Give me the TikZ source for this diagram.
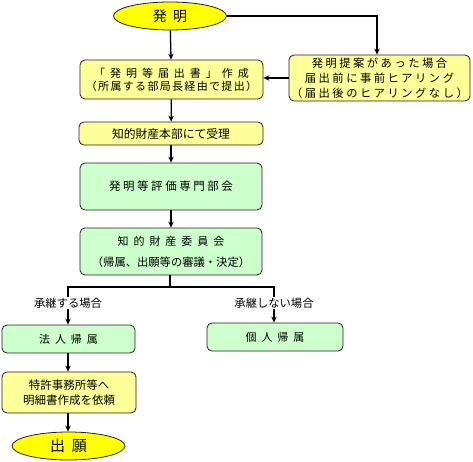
\documentclass[tikz,border=0pt]{standalone}
\usepackage{fontspec}
\usetikzlibrary{arrows.meta,shapes.geometric}
\newfontfamily\cjk{Noto Sans CJK JP}
\newfontfamily\cjkn[LetterSpace=12]{Noto Sans CJK JP}
\newfontfamily\cjkw[LetterSpace=22]{Noto Sans CJK JP}
\newfontfamily\cjkww[LetterSpace=45]{Noto Sans CJK JP}
\definecolor{OvalFill}{HTML}{FFFF00}
\definecolor{BoxYellow}{HTML}{FFFF99}
\definecolor{BoxGreen}{HTML}{CCFFCC}
\definecolor{LineMain}{HTML}{202020}
\tikzset{>={Stealth[length=6pt,width=5.5pt]},every node/.style={font=\cjk\fontsize{11.3}{14}\selectfont},
 box/.style={draw=LineMain,line width=.8pt,rounded corners=5pt,align=center,inner sep=0pt},
 ybox/.style={box,fill=BoxYellow},gbox/.style={box,fill=BoxGreen},
 oval/.style={ellipse,draw=LineMain,line width=.8pt,fill=OvalFill,inner sep=0pt},
 flow/.style={draw=black,line width=1.3pt,->},
 tie/.style={draw=black,line width=1.3pt}}

\begin{document}
\begin{tikzpicture}[x=1pt,y=-1pt]
\useasboundingbox (0,0) rectangle (473,462);
\node[oval,minimum width=113pt,minimum height=28pt,font=\cjkww\fontsize{14}{16}\selectfont] (inv) at (170,16) {発明};
\node[ybox,minimum width=183pt,minimum height=39pt] (todoke) at (171.5,79.5)
 {{\cjkww\fontsize{11}{15}\selectfont 「発明等届出書」作成}\\[-1pt]{\cjkn\fontsize{11}{14}\selectfont （所属する部局長経由で提出）}};
\node[ybox,minimum width=181pt,minimum height=46pt,font=\cjkw\fontsize{11.3}{15}\selectfont] (hear) at (379.5,78)
 {発明提案があった場合\\届出前に事前ヒアリング\\（届出後のヒアリングなし）};
\node[ybox,minimum width=184pt,minimum height=23pt,font=\cjk\fontsize{11.8}{14}\selectfont] (juri) at (171,133.5) {知的財産本部にて受理};
\node[gbox,minimum width=182pt,minimum height=47pt,font=\cjkw\fontsize{11.5}{14}\selectfont] (hyoka) at (171,186.5) {発明等評価専門部会};
\node[gbox,minimum width=182pt,minimum height=47pt] (iinkai) at (171,251.5)
 {{\cjkww\fontsize{11}{14}\selectfont 知的財産委員会}\\[7pt]{\cjk\fontsize{11.3}{14}\selectfont （帰属、出願等の審議・決定）}};
\coordinate (split) at (170,287);
\coordinate (splitL) at (68,287);
\coordinate (splitR) at (274,287);
\node[inner sep=1pt] (takeA) at (68,303) {承継する場合};
\node[inner sep=1pt] (takeB) at (274,303) {承継しない場合};
\node[gbox,minimum width=133pt,minimum height=28pt,font=\cjkww\fontsize{11}{14}\selectfont] (hojin) at (68.5,339) {法人帰属};
\node[gbox,minimum width=136pt,minimum height=28pt,font=\cjkww\fontsize{11}{14}\selectfont] (kojin) at (275,337) {個人帰属};
\node[ybox,minimum width=134pt,minimum height=41pt,font=\cjk\fontsize{11.5}{15}\selectfont] (irai) at (69,392.5)
 {特許事務所等へ\\明細書作成を依頼};
\node[oval,minimum width=113pt,minimum height=28pt,font=\cjkww\fontsize{15}{17}\selectfont] (gan) at (68.5,446) {出願};
% connectors
\draw[flow] (inv) -- (todoke);
\draw[flow] (inv.east) -| ([xshift=-2.5pt]hear.north);
\draw[flow] (hear.west) -- (todoke.east |- hear.west);
\draw[flow] (todoke) -- (juri);
\draw[flow] (juri) -- (hyoka);
\draw[flow] (hyoka) -- (iinkai);
\draw[tie] (iinkai.south -| split) -- (split);
\draw[tie] ([xshift=-.65pt]splitL) -- ([xshift=.65pt]splitR);
\draw[tie] (splitL) -- (takeA.north);
\draw[tie] (splitR) -- (takeB.north);
\draw[flow] (takeA.south) -- (hojin.north -| takeA.south);
\draw[flow] (takeB.south) -- (kojin.north -| takeB.south);
\draw[flow] (hojin.south -| takeA) -- (irai.north -| takeA);
\draw[flow] (irai.south -| takeA) -- (gan.north -| takeA);
\end{tikzpicture}
\end{document}
